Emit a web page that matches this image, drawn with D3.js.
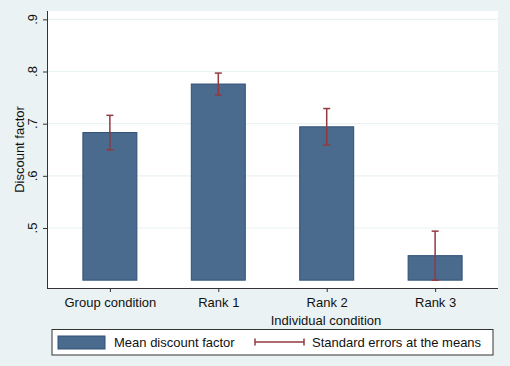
<!DOCTYPE html>
<html><head><meta charset="utf-8">
<script src="https://cdn.jsdelivr.net/npm/d3@7"></script>
<style>body{margin:0;background:#eaf2f3}svg{display:block}</style>
</head><body>
<script>
const categories = ["Group condition", "Rank 1", "Rank 2", "Rank 3"];
const means = [0.683, 0.776, 0.694, 0.447];
const seLow = [0.650, 0.755, 0.659, 0.400];
const seHigh = [0.716, 0.797, 0.729, 0.494];
const yTicks = [0.5, 0.6, 0.7, 0.8, 0.9];
const yTickLabels = [".5", ".6", ".7", ".8", ".9"];
const yTitle = "Discount factor";
const xTitle = "Individual condition";
const legendLabels = ["Mean discount factor", "Standard errors at the means"];

const W = 510, H = 366;
const L = 47, R = 498, T = 11, B = 288;
const font = "'Liberation Sans', Arial, sans-serif";
const fs = 13;
const barColor = "#4a6a8e", barStroke = "#2f5277", errColor = "#923a40";

const svg = d3.select("body").append("svg").attr("width", W).attr("height", H);
svg.append("rect").attr("width", W).attr("height", H).attr("fill", "#eaf2f3");
svg.append("rect").attr("x", L).attr("y", T).attr("width", R - L).attr("height", B - T).attr("fill", "#fff");

const y = d3.scaleLinear().domain([0.385, 0.916]).range([B, T]);
const x = d3.scalePoint().domain(categories).range([L, R]).padding(0.58);
const bw = 54;
const base = 0.40;

// grid
svg.append("g").selectAll("line").data(yTicks).join("line")
  .attr("x1", L).attr("x2", R).attr("y1", d => y(d)).attr("y2", d => y(d))
  .attr("stroke", "#eaf2f3").attr("stroke-width", 1.2);

// bars
svg.append("g").selectAll("rect").data(categories).join("rect")
  .attr("x", d => x(d) - bw / 2).attr("width", bw)
  .attr("y", (d, i) => y(means[i])).attr("height", (d, i) => y(base) - y(means[i]))
  .attr("fill", barColor).attr("stroke", barStroke).attr("stroke-width", 1);

// error bars
const eg = svg.append("g").attr("stroke", errColor).attr("stroke-width", 1.5);
categories.forEach((c, i) => {
  const cx = x(c);
  eg.append("line").attr("x1", cx).attr("x2", cx).attr("y1", y(seLow[i])).attr("y2", y(seHigh[i]));
  eg.append("line").attr("x1", cx - 3.5).attr("x2", cx + 3.5).attr("y1", y(seLow[i])).attr("y2", y(seLow[i]));
  eg.append("line").attr("x1", cx - 3.5).attr("x2", cx + 3.5).attr("y1", y(seHigh[i])).attr("y2", y(seHigh[i]));
});

// y axis
const yAxis = d3.axisLeft(y).tickValues(yTicks).tickFormat(() => "").tickSize(4);
const gy = svg.append("g").attr("transform", `translate(${L},0)`).call(yAxis);
gy.select(".domain").attr("d", `M0.5,${T}V${B}`).attr("stroke", "#333");
gy.selectAll(".tick line").attr("stroke", "#333");
svg.append("g").selectAll("text").data(yTicks).join("text")
  .attr("transform", d => `translate(37,${y(d)}) rotate(-90)`)
  .attr("text-anchor", "middle").attr("font-family", font).attr("font-size", fs).attr("fill", "#111")
  .text((d, i) => yTickLabels[i]);

// x axis
const xAxis = d3.axisBottom(x).tickSize(4).tickPadding(6);
const gx = svg.append("g").attr("transform", `translate(0,${B})`).call(xAxis);
gx.select(".domain").attr("d", `M${L},0.5H${R}`).attr("stroke", "#333");
gx.selectAll(".tick line").attr("stroke", "#333");
gx.selectAll(".tick text").attr("font-family", font).attr("font-size", fs).attr("fill", "#111");

// titles
svg.append("text").attr("transform", `translate(24,${(T + B) / 2}) rotate(-90)`)
  .attr("text-anchor", "middle").attr("font-family", font).attr("font-size", fs).attr("fill", "#111").text(yTitle);
svg.append("text").attr("x", 326).attr("y", 325).attr("text-anchor", "middle")
  .attr("font-family", font).attr("font-size", fs).attr("fill", "#111").text(xTitle);

// legend
svg.append("rect").attr("x", 52).attr("y", 329.5).attr("width", 441).attr("height", 25.5)
  .attr("fill", "#fff").attr("stroke", "#333").attr("stroke-width", 1);
svg.append("rect").attr("x", 58).attr("y", 336).attr("width", 47).attr("height", 13)
  .attr("fill", barColor).attr("stroke", barStroke);
svg.append("text").attr("x", 114).attr("y", 347).attr("font-family", font).attr("font-size", fs).attr("fill", "#111").text(legendLabels[0]);
const lg = svg.append("g").attr("stroke", errColor).attr("stroke-width", 1.5);
lg.append("line").attr("x1", 255).attr("x2", 304).attr("y1", 342).attr("y2", 342);
lg.append("line").attr("x1", 255).attr("x2", 255).attr("y1", 338.5).attr("y2", 345.5);
lg.append("line").attr("x1", 304).attr("x2", 304).attr("y1", 338.5).attr("y2", 345.5);
svg.append("text").attr("x", 312).attr("y", 347).attr("font-family", font).attr("font-size", fs).attr("fill", "#111").text(legendLabels[1]);
</script>
</body></html>
